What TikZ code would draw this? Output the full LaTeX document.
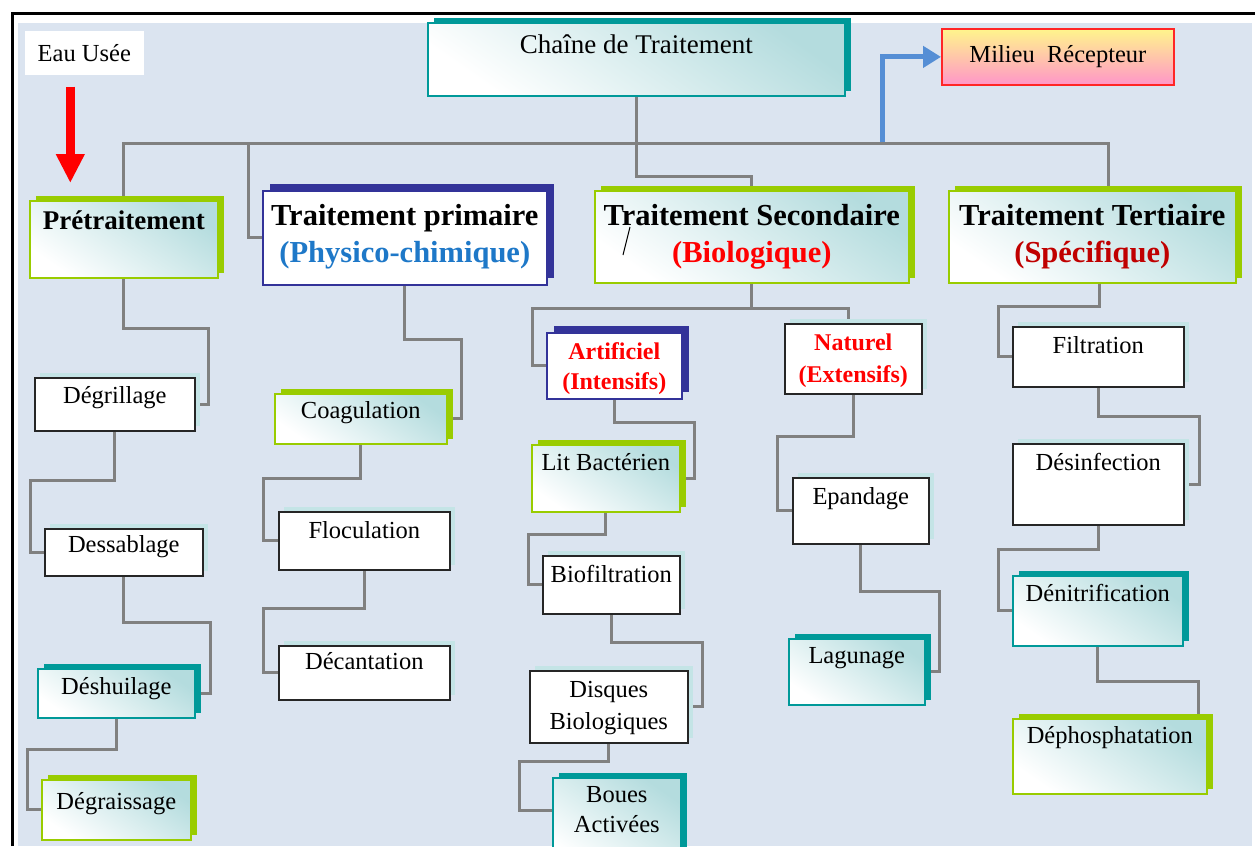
\documentclass[tikz,border=0pt]{standalone}
\usepackage{fontspec}
\setmainfont{Liberation Serif}
\usepackage{xcolor}
\usetikzlibrary{arrows.meta, shadows, backgrounds}

\definecolor{pagebg}{RGB}{219,228,240}
\definecolor{leaf}{RGB}{153,204,0}
\definecolor{sea}{RGB}{0,153,153}
\definecolor{ink}{RGB}{51,51,153}
\definecolor{mist}{RGB}{196,228,230}
\definecolor{tint}{RGB}{180,220,222}
\definecolor{wire}{RGB}{128,128,128}
\definecolor{physblue}{RGB}{30,120,200}
\definecolor{darkred}{RGB}{192,0,0}
\definecolor{flowblue}{RGB}{85,142,213}
\definecolor{lemon}{RGB}{255,245,140}
\definecolor{rose}{RGB}{255,150,200}

\tikzset{
  sz/.style n args={3}{minimum width=#1pt, text height=#2pt, text depth=#3pt},
  cell/.style={anchor=north west, inner sep=0pt, align=center, line width=1.6pt,
    font=\fontsize{24.5}{29}\selectfont},
  plain/.style={cell, draw=black!85, fill=white,
    general shadow={fill=mist, shadow xshift=5pt, shadow yshift=5pt}},
  leafbox/.style={cell, draw=leaf, top color=tint, bottom color=white, shading angle=-35,
    general shadow={fill=leaf, shadow xshift=6pt, shadow yshift=5pt}},
  seabox/.style={cell, draw=sea, top color=tint, bottom color=white, shading angle=-35,
    general shadow={fill=sea, shadow xshift=6pt, shadow yshift=5pt}},
  inkbox/.style={cell, draw=ink, fill=white,
    general shadow={fill=ink, shadow xshift=7pt, shadow yshift=7pt}},
  title/.style={font=\bfseries\fontsize{30.5}{37}\selectfont},
  link/.style={draw=wire, line width=3pt},
}

\begin{document}
\begin{tikzpicture}[x=1pt, y=-1pt]
\useasboundingbox (0,0) rectangle (1255,846);

% top of the chain
\node[cell, fill=white, sz={119}{31}{13}] (eau) at (24,30) {Eau Usée};
\node[seabox, sz={417}{31}{42}, font=\fontsize{27}{32}\selectfont] (chaine) at (427,22) {Chaîne de Traitement};
\node[cell, draw=red!85, line width=1.8pt, top color=lemon, bottom color=rose, sz={232}{34}{22}] (milieu) at (941,28) {Milieu\ \ Récepteur};

\node[leafbox, sz={188}{29}{48}, font=\bfseries\fontsize{27}{32}\selectfont] (pre) at (29,200) {Prétraitement};
\node[inkbox, title, sz={284}{72}{22}] (prim) at (262,190) {Traitement primaire\\\textcolor{physblue}{(Physico-chimique)}};
\node[leafbox, title, sz={314}{72}{20}] (sec) at (594,190) {Traitement Secondaire\\\textcolor{red}{(Biologique)}};
\node[leafbox, title, sz={287}{72}{20}] (ter) at (948,190) {Traitement Tertiaire\\\textcolor{darkred}{(Spécifique)}};

% pretraitement
\node[plain, sz={160}{26}{27}] (degr) at (34,377) {Dégrillage};
\node[plain, sz={158}{24}{23}] (dessab) at (44,528) {Dessablage};
\node[seabox, sz={157}{26}{23}] (deshu) at (37,668) {Déshuilage};
\node[leafbox, sz={149}{30}{30}] (degra) at (41,779) {Dégraissage};

% primaire
\node[leafbox, sz={172}{25}{25}] (coag) at (274,393) {Coagulation};
\node[plain, sz={171}{27}{31}] (floc) at (278,511) {Floculation};
\node[plain, sz={171}{24}{30}] (decan) at (278,645) {Décantation};

% secondaire
\node[inkbox, text=red, sz={135}{57}{9}, font=\bfseries\fontsize{24}{30}\selectfont] (artif) at (546,332) {Artificiel\\(Intensifs)};
\node[plain, text=red, sz={137}{59}{11}, font=\bfseries\fontsize{24}{32}\selectfont] (natur) at (784,323) {Naturel\\(Extensifs)};
\node[leafbox, sz={148}{26}{41}] (lit) at (531,444) {Lit Bactérien};
\node[plain, sz={137}{27}{31}] (biof) at (542,555) {Biofiltration};
\node[plain, sz={158}{59}{13}, font=\fontsize{24.5}{32}\selectfont] (disq) at (529,670) {Disques\\Biologiques};
\node[seabox, sz={128}{55}{35}, font=\fontsize{24.5}{30}\selectfont] (boues) at (552,777) {Boues\\Activées};
\node[plain, sz={136}{27}{39}] (epand) at (792,477) {Epandage};
\node[seabox, sz={136}{25}{41}] (lagun) at (788,638) {Lagunage};

% tertiaire
\node[plain, sz={171}{27}{33}] (filtr) at (1012,326) {Filtration};
\node[plain, sz={171}{27}{54}] (desinf) at (1012,443) {Désinfection};
\node[seabox, sz={170}{26}{44}] (denit) at (1012,575) {Dénitrification};
\node[leafbox, sz={194}{25}{50}] (dephos) at (1012,718) {Déphosphatation};

\coordinate (tap) at (882,142);

\begin{scope}[on background layer]
  \fill[pagebg] (18,23) rectangle (1252,846);
  \draw[link] (chaine.south) -- ++(0,47) -| (pre.north);
  \draw[link] (chaine.south) -- ++(0,47) -| ([xshift=-14pt]prim.west) -- (prim.west);
  \draw[link] (chaine.south) -- ++(0,80) -| (sec.north);
  \draw[link] (chaine.south) -- ++(0,47) -| ([xshift=16.5pt]ter.north);

  \draw[link] (pre.south) -- ++(0,50) -| ([xshift=13pt]degr.east) -- (degr.east);
  \draw[link] (degr.south) -- ++(0,49) -| ([xshift=-14pt]dessab.west) -- (dessab.west);
  \draw[link] (dessab.south) -- ++(0,46) -| ([xshift=15pt]deshu.east) -- (deshu.east);
  \draw[link] (deshu.south) -- ++(0,31) -| ([xshift=-14pt]degra.west) -- (degra.west);

  \draw[link] (prim.south) -- ++(0,54) -| ([xshift=14pt]coag.east) -- (coag.east);
  \draw[link] (coag.south) -- ++(0,34) -| ([xshift=-15pt]floc.west) -- (floc.west);
  \draw[link] (floc.south) -- ++(0,38) -| ([xshift=-15pt]decan.west) -- (decan.west);

  \draw[link] (sec.south) -- ++(0,25) -| ([xshift=-14pt]artif.west) -- (artif.west);
  \draw[link] (sec.south) -- ++(0,25) -| ([xshift=-4.5pt]natur.north);
  \draw[link] (artif.south) -- ++(0,23) -| ([xshift=14pt]lit.east) -- (lit.east);
  \draw[link] (lit.south) -- ++(0,22) -| ([xshift=-14pt]biof.west) -- (biof.west);
  \draw[link] (biof.south) -- ++(0,28) -| ([xshift=14pt]disq.east) -- (disq.east);
  \draw[link] (disq.south) -- ++(0,18) -| ([xshift=-33pt,yshift=12pt]boues.west) -- ([yshift=12pt]boues.west);
  \draw[link] (natur.south) -- ++(0,42) -| ([xshift=-15pt]epand.west) -- (epand.west);
  \draw[link] (epand.south) -- ++(0,47) -| ([xshift=14pt]lagun.east) -- (lagun.east);

  \draw[link] ([xshift=7pt]ter.south) -- ++(0,23) -| ([xshift=-14pt]filtr.west) -- (filtr.west);
  \draw[link] (filtr.south) -- ++(0,29) -| ([xshift=15pt]desinf.east) -- (desinf.east);
  \draw[link] (desinf.south) -- ++(0,24) -| ([xshift=-14pt]denit.west) -- (denit.west);
  \draw[link] (denit.south) -- ++(0,35) -| ([xshift=89pt]dephos.north);
\end{scope}

\draw[line width=3pt] (12,846) |- (1255,13);
\draw[red, line width=9pt, -{Triangle[length=29pt,width=27pt]}, shorten <=11pt, shorten >=17pt]
  ([xshift=-14pt]eau.south) -- ([xshift=-14pt]eau.south |- pre.north);
\draw[flowblue, line width=5pt, -{Triangle[length=18pt,width=21pt]}] (tap) |- (milieu.west);
\draw[line width=1pt] (623,255) -- (630,227);

\end{tikzpicture}
\end{document}
